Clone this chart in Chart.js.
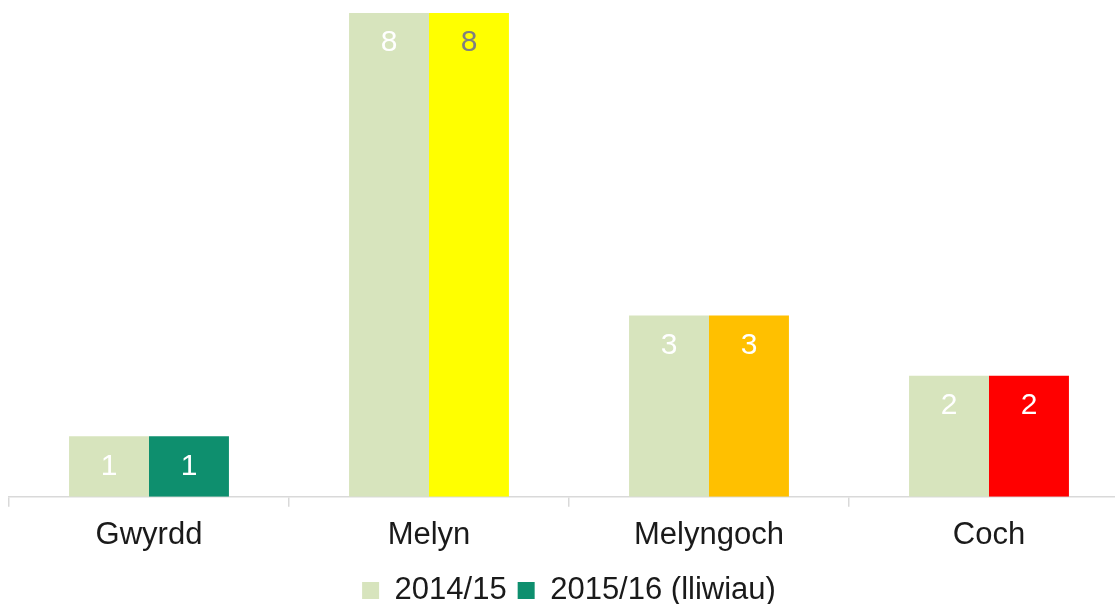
<!DOCTYPE html>
<html>
<head>
<meta charset="utf-8">
<script src="https://cdn.jsdelivr.net/npm/chart.js@4/dist/chart.umd.min.js"></script>
<style>
    html, body { margin: 0; padding: 0; background: #fff; overflow: hidden; }
    #wrap { width: 1115px; height: 604px; overflow: hidden; }
</style>
</head>
<body>
<div id="wrap"><canvas id="colourChart" width="1138" height="616"></canvas></div>
<script>
// data
const categories = ['Gwyrdd', 'Melyn', 'Melyngoch', 'Coch'];
const seriesNames = ['2014/15', '2015/16 (lliwiau)'];
const values2014 = [1, 8, 3, 2];
const values2015 = [1, 8, 3, 2];

const colour2014 = '#d7e4bd';
const colours2015 = ['#0e8f6e', '#ffff00', '#ffc000', '#ff0000'];
const labelColours2015 = ['#ffffff', '#7f7f7f', '#ffffff', '#ffffff'];

const fontFamily = '"Liberation Sans", Arial, sans-serif';

// small plugin to write the value inside the top of each bar
const valueLabels = {
    id: 'valueLabels',
    afterDatasetsDraw(chart) {
        const ctx = chart.ctx;
        ctx.save();
        ctx.font = '30px ' + fontFamily;
        ctx.textAlign = 'center';
        ctx.textBaseline = 'middle';
        chart.data.datasets.forEach(function (ds, i) {
            chart.getDatasetMeta(i).data.forEach(function (bar, j) {
                ctx.fillStyle = i === 0 ? '#ffffff' : labelColours2015[j];
                ctx.fillText(ds.data[j], bar.x, bar.y + 30);
            });
        });
        ctx.restore();
    }
};

var ctx = document.getElementById('colourChart').getContext('2d');

var colourChart = new Chart(ctx, {
    type: 'bar',
    data: {
        labels: categories,
        datasets: [{
            label: seriesNames[0],
            data: values2014,
            backgroundColor: colour2014,
            borderWidth: 0
        }, {
            label: seriesNames[1],
            data: values2015,
            backgroundColor: colours2015,
            borderWidth: 0
        }]
    },
    options: {
        responsive: false,
        animation: false,
        layout: {
            padding: { top: 13, left: 9, right: 9, bottom: 0 }
        },
        datasets: {
            bar: {
                categoryPercentage: 0.571,
                barPercentage: 1
            }
        },
        scales: {
            x: {
                grid: {
                    offset: true,
                    drawOnChartArea: false,
                    color: '#d9d9d9',
                    lineWidth: 1.5,
                    tickLength: 10
                },
                border: { color: '#d9d9d9', width: 1.5 },
                ticks: {
                    color: '#1a1a1a',
                    padding: 10,
                    font: { family: fontFamily, size: 31 }
                }
            },
            y: {
                display: false,
                min: 0,
                max: 8
            }
        },
        plugins: {
            legend: {
                position: 'bottom',
                labels: {
                    color: '#1a1a1a',
                    boxWidth: 17,
                    boxHeight: 17,
                    padding: 11,
                    font: { family: fontFamily, size: 31 },
                    generateLabels: function (chart) {
                        return chart.data.datasets.map(function (ds, i) {
                            return {
                                text: ds.label,
                                fillStyle: i === 0 ? colour2014 : colours2015[0],
                                strokeStyle: 'transparent',
                                lineWidth: 0,
                                datasetIndex: i,
                                fontColor: '#1a1a1a'
                            };
                        });
                    }
                }
            },
            tooltip: { enabled: false }
        }
    },
    plugins: [valueLabels]
});
</script>
</body>
</html>
